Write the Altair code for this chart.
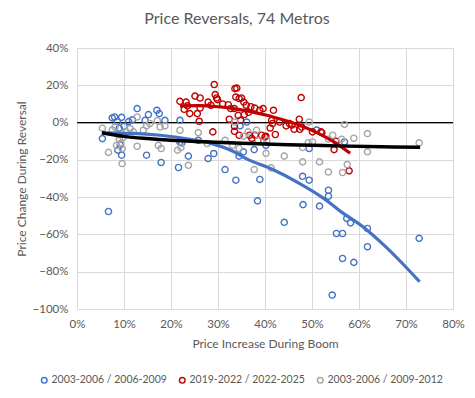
import altair as alt
import pandas as pd

FONT = "Lato"
TXT = "#595959"

series_names = ["2003-2006 / 2006-2009", "2019-2022 / 2022-2025", "2003-2006 / 2009-2012"]
series_colors = ["#4472C4", "#C00000", "#A5A5A5"]

# Blue: boom 2003-2006, reversal 2006-2009 (percent)
blue_x = [5.4, 6.7, 7.5, 8.0, 8.6, 9.0, 9.5, 10.0, 8.7, 9.2, 9.5, 11.0, 11.8, 12.8, 14.5,
          15.2, 17.0, 17.5, 18.7, 21.9, 21.9, 14.8, 17.9, 21.6, 22.3, 23.7, 25.8, 27.9, 29.1,
          31.5, 33.8, 34.5, 35.4, 37.7, 38.9, 38.4, 40.2, 36.1, 34.7, 48.0, 49.4, 48.1, 51.6,
          44.1, 49.4, 51.0, 56.9, 53.5, 53.5, 57.4, 58.2, 61.8, 55.2, 56.5, 61.8, 56.5, 58.9,
          54.3, 72.8]
blue_y = [-8.6, -47.7, 2.5, 3.0, 0.5, -3.0, 2.8, -2.0, -14.8, -12.0, -17.5, 0.5, 1.5, 7.5, 1.2,
          4.3, 6.6, 4.8, 1.2, 1.2, -10.4, -17.5, -21.4, -24.1, -10.9, -18.0, -9.5, -19.3, -16.6,
          -25.2, -30.9, -18.0, -15.7, -14.5, -30.5, -42.0, -12.2, 0.3, -1.8, -28.8, -30.9, -44.0, -44.8,
          -53.5, -13.9, -4.0, -10.4, -36.3, -39.5, -51.4, -53.8, -56.8, -59.5, -59.5, -66.6, -72.9, -75.0,
          -92.5, -62.1]

# Red: boom 2019-2022, reversal 2022-2025 (percent)
red_x = [21.9, 23.2, 22.8, 24.0, 25.1, 26.2, 25.6, 26.0, 26.2, 27.9, 28.5, 29.2, 29.4, 29.7,
         29.9, 28.9, 32.2, 32.7, 32.4, 33.6, 34.0, 33.8, 34.5, 35.0, 33.5, 33.5, 34.3, 34.8,
         36.0, 35.6, 37.0, 37.8, 34.5, 33.5, 36.7, 37.2, 37.9, 39.6, 38.9, 39.3, 40.0, 41.8,
         41.4, 41.6, 41.1, 42.2, 43.1, 44.5, 45.2, 45.7, 47.3, 47.7, 46.2, 47.4, 47.8, 50.1,
         51.9, 52.1, 55.1, 57.9, 54.7, 38.5, 40.2, 36.5, 31.0, 35.5, 23.5]
red_y = [11.4, 11.0, 7.1, 4.8, 14.2, 13.2, 4.8, 0.7, 7.8, 11.0, 9.3, 20.4, 15.0, 13.2,
         12.3, -5.0, 9.6, 7.5, 1.8, 18.2, 18.5, 13.7, 12.9, 13.2, 7.5, -2.0, 3.9, 1.2,
         9.3, 4.3, 8.5, 7.8, -6.8, -4.7, -6.8, -8.5, -6.8, 7.5, 6.6, -6.8, -7.7, 6.6,
         1.2, -0.5, -2.9, -6.4, 0.3, -1.8, -0.5, -1.4, 1.8, 13.4, -3.6, -3.6, -2.4, -5.0,
         -5.0, -5.4, -10.0, -25.9, -14.5, -9.5, -7.3, 5.5, 10.0, 11.0, 9.0]

# Gray: boom 2003-2006, reversal 2009-2012 (percent)
gray_x = [5.4, 6.7, 8.1, 8.4, 8.7, 9.0, 9.3, 9.6, 9.6, 9.8, 11.3, 12.0, 12.8, 12.8, 14.1,
          14.8, 15.5, 17.1, 17.7, 18.7, 17.3, 17.9, 21.4, 22.1, 23.7, 21.9, 25.8, 27.7, 31.5,
          33.6, 33.1, 34.5, 35.4, 36.4, 38.2, 38.6, 40.4, 40.2, 37.7, 41.3, 44.1, 48.0, 49.4,
          49.2, 50.1, 48.0, 51.6, 53.5, 54.4, 56.9, 56.5, 57.5, 58.9, 53.5, 56.3, 61.8, 61.8,
          72.8, 10.5, 7.5]
gray_y = [-3.0, -16.0, -2.4, -12.2, -6.5, -9.0, -11.2, -13.9, -22.0, -8.0, -3.2, -5.0, 3.0, -12.7, -4.1,
          -1.8, -0.5, 1.0, -2.4, -1.8, -12.2, -13.9, -14.8, -13.4, -22.9, -4.1, -5.4, -11.2, -9.5,
          0.3, -12.2, -13.9, -7.3, -5.0, -4.1, -9.5, -9.5, -16.5, -25.2, -24.3, -18.0, -13.4, 0.3,
          -10.9, -10.4, -21.1, -21.1, -26.5, -6.8, -1.0, -26.8, -22.5, -8.4, -8.9, -8.9, -5.9, -15.7,
          -10.9, -5.0, -4.0]

# Trendlines (percent)
blue_tx = [5.3, 12.0, 17.7, 24.7, 28.3, 33.3, 36.1, 41.3, 47.4, 52.8, 56.0, 61.3, 65.2, 69.4, 72.9]
blue_ty = [-5.5, -5.8, -6.8, -9.2, -11.0, -15.5, -19.5, -24.8, -32.7, -41.2, -47.5, -56.8, -65.5, -76.0, -85.4]
red_tx = [21.9, 26.0, 30.0, 33.3, 36.7, 40.4, 44.0, 47.4, 50.0, 52.8, 55.1, 58.1]
red_ty = [9.0, 9.1, 8.5, 7.5, 6.0, 3.9, 1.3, -1.4, -4.2, -7.7, -11.0, -16.5]
black_tx = [5.3, 10.0, 15.0, 20.0, 27.0, 35.0, 45.0, 55.0, 65.0, 73.0]
black_ty = [-5.5, -7.4, -8.6, -9.5, -10.3, -11.1, -11.9, -12.5, -13.0, -13.3]

x_ticks = [0, 10, 20, 30, 40, 50, 60, 70, 80]
y_ticks = [-100, -80, -60, -40, -20, 0, 20, 40]

rows = []
for name, xs, ys in [(series_names[0], blue_x, blue_y),
                     (series_names[1], red_x, red_y),
                     (series_names[2], gray_x, gray_y)]:
    for a, b in zip(xs, ys):
        rows.append({"series": name, "x": a / 100, "y": b / 100})
pts = pd.DataFrame(rows)

def trend_df(xs, ys):
    return pd.DataFrame({"x": [v / 100 for v in xs], "y": [v / 100 for v in ys]})

xscale = alt.Scale(domain=[0, 0.8], nice=False, zero=False)
yscale = alt.Scale(domain=[-1.0, 0.4], nice=False, zero=False)

xaxis = alt.Axis(format=".0%", values=[v / 100 for v in x_ticks], title="Price Increase During Boom",
                 grid=True, gridColor="#D9D9D9", gridWidth=1, domain=False, ticks=False,
                 labelColor=TXT, labelFontSize=11.5, labelFont=FONT, labelPadding=9,
                 labelOverlap=False, labelFlush=False,
                 titleColor=TXT, titleFontSize=12, titleFont=FONT, titleFontWeight="normal",
                 titlePadding=9)
yaxis = alt.Axis(format=".0%", values=[v / 100 for v in y_ticks], title="Price Change During Reversal",
                 grid=True, gridColor="#D9D9D9", gridWidth=1, domain=False, ticks=False,
                 labelColor=TXT, labelFontSize=11.5, labelFont=FONT, labelPadding=9,
                 labelOverlap=False, labelFlush=False,
                 titleColor=TXT, titleFontSize=12, titleFont=FONT, titleFontWeight="normal",
                 titlePadding=4)

X = lambda: alt.X("x:Q", scale=xscale, axis=xaxis)
Y = lambda: alt.Y("y:Q", scale=yscale, axis=yaxis)

base_pts = alt.Chart(pts).mark_point(filled=False, size=38, strokeWidth=1.4, opacity=1).encode(
    x=X(),
    y=Y(),
    color=alt.Color("series:N", sort=series_names,
                    scale=alt.Scale(domain=series_names, range=series_colors),
                    legend=alt.Legend(title=None, orient="none", direction="horizontal",
                                      legendX=-38, legendY=327, symbolType="circle",
                                      symbolSize=32, symbolStrokeWidth=1.4,
                                      labelFont=FONT, labelFontSize=10.5, labelColor=TXT,
                                      labelOffset=2, columnPadding=9, labelLimit=200)),
)

zero = alt.Chart(pd.DataFrame({"y": [0.0]})).mark_rule(color="black", strokeWidth=1.3).encode(
    y=Y()
)

def trend(xs, ys, color, width):
    return alt.Chart(trend_df(xs, ys)).mark_line(color=color, strokeWidth=width,
                                                 interpolate="monotone").encode(x=X(), y=Y())

chart = alt.layer(
    zero,
    base_pts,
    trend(blue_tx, blue_ty, "#4472C4", 3.2),
    trend(red_tx, red_ty, "#C00000", 3.2),
    trend(black_tx, black_ty, "#000000", 3.5),
).properties(
    width=376, height=261,
    title=alt.TitleParams("Price Reversals, 74 Metros", font=FONT, fontSize=16, color=TXT,
                          fontWeight="normal", anchor="middle", dx=-28, offset=15),
    padding={"left": 69, "top": 40, "right": 14, "bottom": 80},
    autosize=alt.AutoSizeParams(type="none"),
).configure_view(stroke=None)

chart.save("out.html", embed_options={"renderer": "svg", "actions": False})
